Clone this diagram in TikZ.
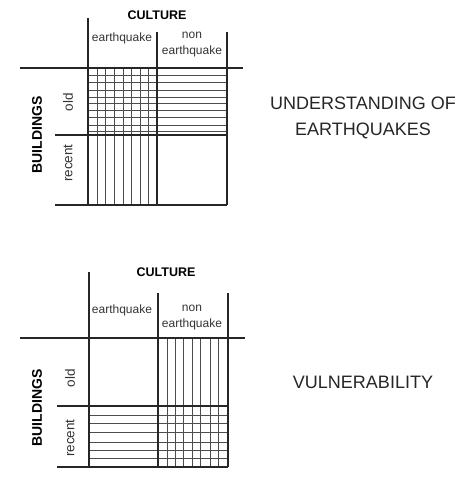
\documentclass[tikz,border=0pt]{standalone}
\usepackage{fontspec}
\setmainfont{Liberation Sans}
\tikzset{
  axis/.style={line width=1.6pt,black!85},
  hatch/.style={line width=0.5pt,black!70},
  head/.style={font=\fontsize{12.5}{12.5}\selectfont\bfseries,inner sep=0pt},
  side/.style={font=\fontsize{14}{14}\selectfont\bfseries,rotate=90,inner sep=0pt},
  cell/.style={font=\fontsize{12}{16}\selectfont,align=center,inner sep=0pt,black!80},
  row/.style={font=\fontsize{13.5}{13.5}\selectfont,rotate=90,inner sep=0pt,black!80},
  result/.style={font=\fontsize{18}{26}\selectfont,align=center,inner sep=0pt,black!85}
}
\begin{document}
\begin{tikzpicture}[x=1pt,y=-1pt]
\useasboundingbox (0,0) rectangle (457,477);
% upper chart
\draw[hatch] (97,68)--(97,205) (105,68)--(105,205) (114,68)--(114,205) (123,68)--(123,205);
\draw[hatch] (131,68)--(131,205) (140,68)--(140,205) (148,68)--(148,205);
\draw[hatch] (88,75)--(227,75) (88,82)--(227,82) (88,90)--(227,90) (88,97)--(227,97) (88,103)--(227,103);
\draw[hatch] (88,110)--(227,110) (88,117)--(227,117) (88,125)--(227,125) (88,131)--(227,131);
\draw[axis] (88,18)--(88,205);
\draw[axis] (157,32)--(157,205);
\draw[axis] (227,32)--(227,205);
\draw[axis] (20,68)--(243,68);
\draw[axis] (55,135)--(227,135);
\draw[axis] (55,205)--(227,205);
\node[head] (culture1) at (157,15) {CULTURE};
\node[cell] (eq1) at (122,38) {earthquake};
\node[cell] (noneq1) at (192,45) {non\\earthquake};
\node[side] (buildings1) at (37,135) {BUILDINGS};
\node[row] (old1) at (68,102) {old};
\node[row] (recent1) at (68,163) {recent};
\node[result] (understanding) at (363,118) {UNDERSTANDING OF\\EARTHQUAKES};
% lower chart
\draw[hatch] (167,338)--(167,467) (175,338)--(175,467) (183,338)--(183,467) (192,338)--(192,467);
\draw[hatch] (200,338)--(200,467) (210,338)--(210,467) (218,338)--(218,467);
\draw[hatch] (89,415)--(228,415) (89,423)--(228,423) (89,432)--(228,432);
\draw[hatch] (89,442)--(228,442) (89,450)--(228,450) (89,458)--(228,458);
\draw[axis] (89,272)--(89,467);
\draw[axis] (158,293)--(158,467);
\draw[axis] (228,293)--(228,467);
\draw[axis] (20,338)--(245,338);
\draw[axis] (57,406)--(228,406);
\draw[axis] (57,467)--(228,467);
\node[head] (culture2) at (166,272) {CULTURE};
\node[cell] (eq2) at (122,310) {earthquake};
\node[cell] (noneq2) at (192,318) {non\\earthquake};
\node[side] (buildings2) at (37,408) {BUILDINGS};
\node[row] (old2) at (70,378) {old};
\node[row] (recent2) at (70,438) {recent};
\node[result] (vulnerability) at (363,382) {VULNERABILITY};
\end{tikzpicture}
\end{document}
